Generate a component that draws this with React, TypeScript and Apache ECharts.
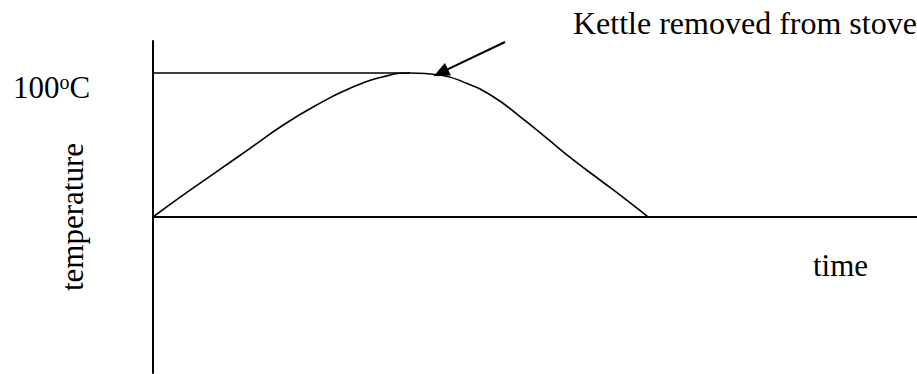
import React, { useEffect, useRef } from "react";
import * as echarts from "echarts";

// Heating / cooling curve of the kettle (time in arbitrary units, temperature relative to start)
const timeValues = [0, 3.97, 8.34, 12.7, 17.05, 21.43, 25.79, 30.15, 33.64, 37.57, 41.06, 44.54, 48.04, 51.53, 55.01, 58.51, 62.0, 64.83];
const tempValues = [0, 15.3, 31.5, 47.7, 63.9, 77.8, 89.4, 97.4, 100, 98.6, 92.8, 83.5, 69.7, 54.7, 39.6, 25.7, 11.8, 0];
// Reference line at the boiling point, drawn up to the peak
const boilLineTimes = [0, 33.64];
const boilTemp = 100;
// Labels
const yLabel = "temperature";
const xLabel = "time";
const annotation = "Kettle removed from stove";
const arrowFrom = [46.07, 121.5];
const arrowTo = [37.66, 100.2];

const FONT = '"Liberation Serif", "Times New Roman", serif';

export default function App() {
  const ref = useRef<HTMLDivElement>(null);
  useEffect(() => {
    if (!ref.current) return;
    const chart = echarts.init(ref.current, undefined, { renderer: "svg" });
    const curve = timeValues.map((t, i) => [t, tempValues[i]]);
    const boil = boilLineTimes.map((t) => [t, boilTemp]);
    chart.setOption({
      animation: false,
      backgroundColor: "#fff",
      grid: { left: 153, right: 0, top: 41, bottom: 1 },
      xAxis: {
        type: "value",
        min: 0,
        max: 100,
        axisLine: { onZero: true, lineStyle: { color: "#000", width: 2 } },
        axisTick: { show: false },
        axisLabel: { show: false },
        splitLine: { show: false },
      },
      yAxis: {
        type: "value",
        min: -108.3,
        max: 122.2,
        axisLine: { show: true, onZero: false, lineStyle: { color: "#000", width: 2 } },
        axisTick: { show: false },
        axisLabel: { show: false },
        splitLine: { show: false },
      },
      series: [
        {
          type: "line",
          data: curve,
          smooth: 0.5,
          symbol: "none",
          lineStyle: { color: "#000", width: 1.6 },
          markLine: {
            silent: true,
            symbol: ["none", "triangle"],
            symbolSize: [14, 16],
            label: { show: false },
            lineStyle: { color: "#000", width: 2, type: "solid" },
            data: [[{ coord: arrowFrom }, { coord: arrowTo }]],
          },
        },
        {
          type: "line",
          data: boil,
          symbol: "none",
          lineStyle: { color: "#000", width: 1.6 },
        },
      ],
      graphic: [
        {
          type: "text",
          x: 573,
          y: 23,
          style: { text: annotation, font: `32px ${FONT}`, fill: "#000", align: "left", verticalAlign: "middle" },
        },
        {
          type: "text",
          x: 13,
          y: 87,
          style: {
            text: "{a|100}{b|o}{a|C}",
            fill: "#000",
            align: "left",
            verticalAlign: "middle",
            rich: {
              a: { fontSize: 31, fontFamily: FONT, fill: "#000", lineHeight: 31 },
              b: { fontSize: 20, fontFamily: FONT, fill: "#000", verticalAlign: "top", lineHeight: 20 },
            },
          },
        },
        {
          type: "text",
          x: 72,
          y: 217,
          rotation: Math.PI / 2,
          style: { text: yLabel, font: `31px ${FONT}`, fill: "#000", align: "center", verticalAlign: "middle" },
        },
        {
          type: "text",
          x: 813,
          y: 265,
          style: { text: xLabel, font: `31px ${FONT}`, fill: "#000", align: "left", verticalAlign: "middle" },
        },
      ],
    });
    return () => chart.dispose();
  }, []);
  return <div ref={ref} style={{ position: "absolute", left: 0, top: 0, width: 917, height: 374 }} />;
}
